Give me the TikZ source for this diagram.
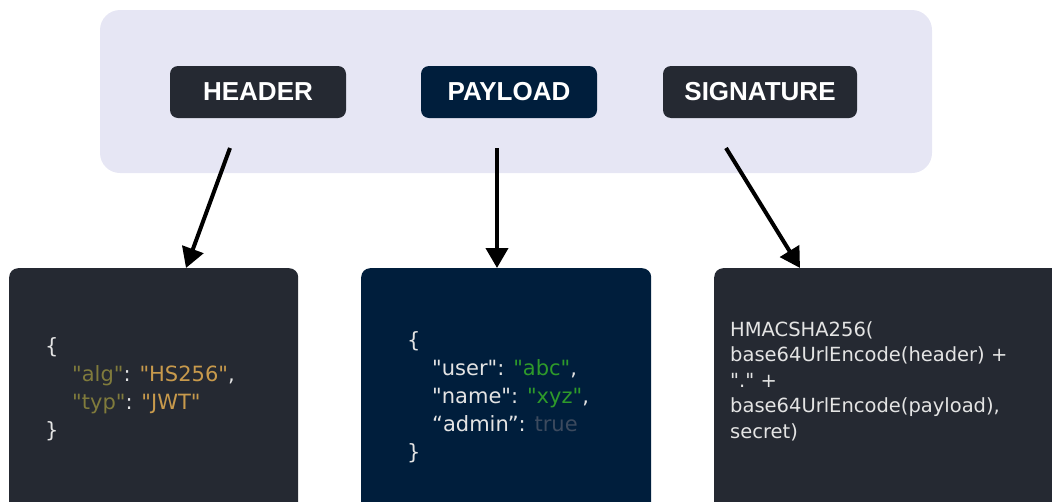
\documentclass[tikz,border=0pt]{standalone}
\usepackage{xcolor}
\usepackage{fontspec}
\setmainfont{Liberation Sans}
\newfontfamily\codefont{DejaVu Sans}
\usepackage{tikz}
\usetikzlibrary{arrows.meta,positioning}

\definecolor{panelbg}{HTML}{E6E6F4}
\definecolor{darkbox}{HTML}{252932}
\definecolor{navybox}{HTML}{001E3C}
\definecolor{codefg}{HTML}{E4E4E4}
\definecolor{jkey}{HTML}{807B3C}
\definecolor{jval}{HTML}{C89A4C}
\definecolor{jstr}{HTML}{2E9A2A}
\definecolor{jbool}{HTML}{3C4A5E}

\begin{document}
\begin{tikzpicture}[
    x=1pt, y=1pt,
    panel/.style={fill=panelbg, rounded corners=20pt, inner sep=0pt},
    part/.style={rounded corners=8pt, minimum height=52pt, inner sep=0pt, text=white, font=\fontsize{26}{30}\selectfont\bfseries},
    codebox/.style={rounded corners=9pt, anchor=north west, minimum height=260pt, inner sep=0pt},
    code/.style={anchor=north west, align=left, inner sep=0pt, text=codefg, font=\codefont\fontsize{21}{28}\selectfont},
    arrow/.style={-{Triangle[length=20pt, width=22pt]}, line width=4pt}
]
    \useasboundingbox (0,0) rectangle (1052,-501);
    \clip (0,0) rectangle (1052,-501);

    % Token parts
    \node[panel, minimum width=832pt, minimum height=163pt] (panel) at (516,-91.5) {};
    \node[part, fill=darkbox, minimum width=176pt] (header) at (258,-92) {HEADER};
    \node[part, fill=navybox, minimum width=176pt] (payload) at (509,-92) {PAYLOAD};
    \node[part, fill=darkbox, minimum width=194pt] (signature) at (760,-92) {SIGNATURE};

    % Decoded parts
    \node[codebox, fill=darkbox, minimum width=289pt] (hcode) at (9,-268) {};
    \node[codebox, fill=navybox, minimum width=290pt] (pcode) at (361,-268) {};
    \node[codebox, fill=darkbox, minimum width=360pt] (scode) at (714,-268) {};

    \node[code] (htext) at ([xshift=36pt, yshift=-69pt]hcode.north west) {%
        \{\\
        \hspace*{27pt}\textcolor{jkey}{"alg"}: \textcolor{jval}{"HS256"},\\
        \hspace*{27pt}\textcolor{jkey}{"typ"}: \textcolor{jval}{"JWT"}\\
        \}};
    \node[code] (ptext) at ([xshift=46pt, yshift=-63pt]pcode.north west) {%
        \{\\
        \hspace*{25pt}"user": \textcolor{jstr}{"abc"},\\
        \hspace*{25pt}"name": \textcolor{jstr}{"xyz"},\\
        \hspace*{25pt}“admin”: \textcolor{jbool}{true}\\
        \}};
    \node[code, font=\codefont\fontsize{19.5}{25.5}\selectfont] (stext) at ([xshift=16pt, yshift=-53pt]scode.north west) {%
        HMACSHA256(\\
        base64UrlEncode(header) +\\
        "." +\\
        base64UrlEncode(payload),\\
        secret)};

    % Arrow start points
    \coordinate (hfrom) at (230,-148);
    \coordinate (pfrom) at (497,-148);
    \coordinate (sfrom) at (726,-148);

    % Connections
    \draw[arrow] (hfrom) -- ([xshift=177pt]hcode.north west);
    \draw[arrow] (pfrom) -- ([xshift=136pt]pcode.north west);
    \draw[arrow] (sfrom) -- ([xshift=86pt]scode.north west);
\end{tikzpicture}
\end{document}
